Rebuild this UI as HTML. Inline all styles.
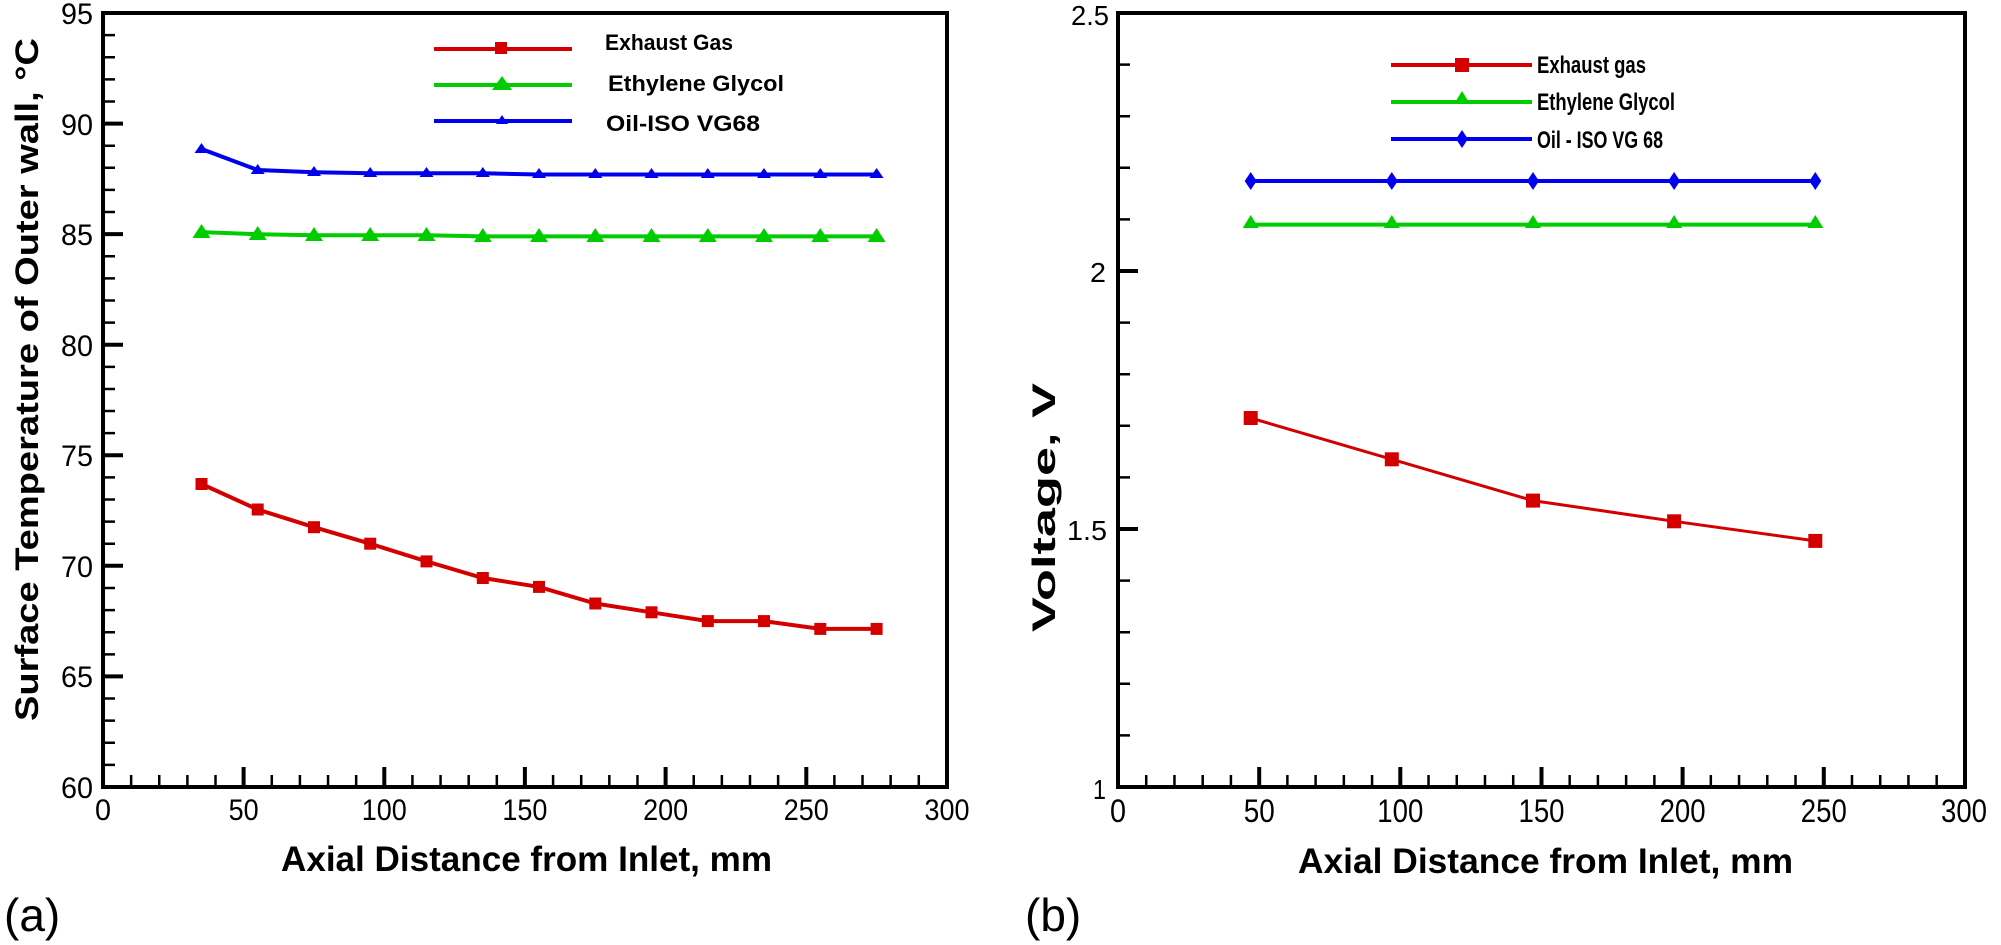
<!DOCTYPE html>
<html><head><meta charset="utf-8"><style>
html,body{margin:0;padding:0;background:#fff}
svg{display:block}
text{font-family:"Liberation Sans",sans-serif}
</style></head><body>
<svg width="2001" height="945" viewBox="0 0 2001 945" xmlns="http://www.w3.org/2000/svg">
<!-- LEFT PLOT -->
<g stroke="#000" fill="none">
<rect x="103" y="13" width="844" height="774" stroke-width="4"/>
<line x1="109" y1="788.25" x2="109" y2="15" stroke-width="12" stroke-dasharray="2.5 19.614"/>
<line x1="101.75" y1="781" x2="946" y2="781" stroke-width="12" stroke-dasharray="2.5 25.63"/>
<path stroke-width="4" d="M103 676.4h20M103 565.8h20M103 455.3h20M103 344.7h20M103 234.1h20M103 123.6h20
M243.6 787v-20M384.3 787v-20M524.9 787v-20M665.6 787v-20M806.3 787v-20"/>
</g>
<g font-size="30" text-anchor="end" fill="#000">
<text x="93" y="798" textLength="32" lengthAdjust="spacingAndGlyphs">60</text>
<text x="93" y="687" textLength="32" lengthAdjust="spacingAndGlyphs">65</text>
<text x="93" y="577" textLength="32" lengthAdjust="spacingAndGlyphs">70</text>
<text x="93" y="466" textLength="32" lengthAdjust="spacingAndGlyphs">75</text>
<text x="93" y="356" textLength="32" lengthAdjust="spacingAndGlyphs">80</text>
<text x="93" y="245" textLength="32" lengthAdjust="spacingAndGlyphs">85</text>
<text x="93" y="135" textLength="32" lengthAdjust="spacingAndGlyphs">90</text>
<text x="93" y="24" textLength="32" lengthAdjust="spacingAndGlyphs">95</text>
</g>
<g font-size="30" text-anchor="middle" fill="#000">
<text x="103" y="820" textLength="16" lengthAdjust="spacingAndGlyphs">0</text>
<text x="243.6" y="820" textLength="30" lengthAdjust="spacingAndGlyphs">50</text>
<text x="384.3" y="820" textLength="45" lengthAdjust="spacingAndGlyphs">100</text>
<text x="524.9" y="820" textLength="45" lengthAdjust="spacingAndGlyphs">150</text>
<text x="665.6" y="820" textLength="45" lengthAdjust="spacingAndGlyphs">200</text>
<text x="806.3" y="820" textLength="45" lengthAdjust="spacingAndGlyphs">250</text>
<text x="947" y="820" textLength="45" lengthAdjust="spacingAndGlyphs">300</text>
</g>
<text x="281" y="871" font-size="35" font-weight="bold" textLength="491" lengthAdjust="spacingAndGlyphs">Axial Distance from Inlet, mm</text>
<text transform="translate(38,721) rotate(-90)" font-size="32" font-weight="bold" textLength="683" lengthAdjust="spacingAndGlyphs">Surface Temperature of Outer wall, °C</text>
<text x="4" y="931" font-size="46" font-family="Liberation Serif,serif">(a)</text>

<!-- left series -->
<polyline fill="none" stroke="#d40000" stroke-width="4" points="201.5,484 257.7,509.5 314,527.2 370.2,543.7 426.5,561.4 482.8,578 539,586.9 595.3,603.5 651.5,612.3 707.8,621.1 764,621.1 820.3,628.9 876.6,628.9"/>
<g fill="#d40000">
<rect x="195.5" y="478" width="12" height="12"/><rect x="251.7" y="503.5" width="12" height="12"/><rect x="308" y="521.2" width="12" height="12"/>
<rect x="364.2" y="537.7" width="12" height="12"/><rect x="420.5" y="555.4" width="12" height="12"/><rect x="476.8" y="572" width="12" height="12"/>
<rect x="533" y="580.9" width="12" height="12"/><rect x="589.3" y="597.5" width="12" height="12"/><rect x="645.5" y="606.3" width="12" height="12"/>
<rect x="701.8" y="615.1" width="12" height="12"/><rect x="758" y="615.1" width="12" height="12"/><rect x="814.3" y="622.9" width="12" height="12"/>
<rect x="870.6" y="622.9" width="12" height="12"/>
<rect x="495" y="42" width="12" height="12"/>
</g>
<polyline fill="none" stroke="#00cc00" stroke-width="4" points="201.5,232.1 257.7,234.2 314,235.3 370.2,235.3 426.5,235.3 482.8,236.4 539,236.4 595.3,236.4 651.5,236.4 707.8,236.4 764,236.4 820.3,236.4 876.6,236.4"/>
<g fill="#00cc00">
<path d="M201.5 224l-9 14h18zM257.7 226l-9 14h18zM314 227l-9 14h18zM370.2 227l-9 14h18zM426.5 227l-9 14h18zM482.8 228l-9 14h18zM539 228l-9 14h18zM595.3 228l-9 14h18zM651.5 228l-9 14h18zM707.8 228l-9 14h18zM764 228l-9 14h18zM820.3 228l-9 14h18zM876.6 228l-9 14h18zM502 76l-10 14h20z"/>
</g>
<polyline fill="none" stroke="#0000ee" stroke-width="4" points="201.5,149 257.7,170 314,172.2 370.2,173.3 426.5,173.3 482.8,173.3 539,174.5 595.3,174.5 651.5,174.5 707.8,174.5 764,174.5 820.3,174.5 876.6,174.5"/>
<g fill="#0000ee">
<path d="M201.5 143l-7 10h14zM257.7 164l-7 10h14zM314 166l-7 10h14zM370.2 167l-7 10h14zM426.5 167l-7 10h14zM482.8 167l-7 10h14zM539 168l-7 10h14zM595.3 168l-7 10h14zM651.5 168l-7 10h14zM707.8 168l-7 10h14zM764 168l-7 10h14zM820.3 168l-7 10h14zM876.6 168l-7 10h14zM502 115l-6 9h12z"/>
</g>
<g stroke-width="4">
<line x1="434" y1="49" x2="572" y2="49" stroke="#d40000"/>
<line x1="434" y1="85" x2="572" y2="85" stroke="#00cc00"/>
<line x1="434" y1="121" x2="572" y2="121" stroke="#0000ee"/>
</g>
<g font-size="22" font-weight="bold" fill="#000">
<text x="605" y="50" textLength="128" lengthAdjust="spacingAndGlyphs">Exhaust Gas</text>
<text x="608" y="91" textLength="176" lengthAdjust="spacingAndGlyphs">Ethylene Glycol</text>
<text x="606" y="131" textLength="154" lengthAdjust="spacingAndGlyphs">Oil-ISO VG68</text>
</g>

<!-- RIGHT PLOT -->
<g stroke="#000" fill="none">
<rect x="1118" y="13" width="847" height="774" stroke-width="4"/>
<line x1="1124" y1="788.25" x2="1124" y2="15" stroke-width="12" stroke-dasharray="2.5 49.1"/>
<line x1="1116.75" y1="781" x2="1964" y2="781" stroke-width="12" stroke-dasharray="2.5 25.73"/>
<path stroke-width="4" d="M1118 529h20M1118 271h20M1259.2 787v-20M1400.3 787v-20M1541.5 787v-20M1682.6 787v-20M1823.8 787v-20"/>
</g>
<g font-size="28" text-anchor="end" fill="#000">
<text x="1106" y="799" textLength="13" lengthAdjust="spacingAndGlyphs">1</text>
<text x="1107" y="540" textLength="40" lengthAdjust="spacingAndGlyphs">1.5</text>
<text x="1106" y="282" textLength="16" lengthAdjust="spacingAndGlyphs">2</text>
<text x="1109" y="25" textLength="38" lengthAdjust="spacingAndGlyphs">2.5</text>
</g>
<g font-size="32" text-anchor="middle" fill="#000">
<text x="1118" y="822" textLength="16" lengthAdjust="spacingAndGlyphs">0</text>
<text x="1259.2" y="822" textLength="31" lengthAdjust="spacingAndGlyphs">50</text>
<text x="1400.3" y="822" textLength="46" lengthAdjust="spacingAndGlyphs">100</text>
<text x="1541.5" y="822" textLength="46" lengthAdjust="spacingAndGlyphs">150</text>
<text x="1682.6" y="822" textLength="46" lengthAdjust="spacingAndGlyphs">200</text>
<text x="1823.8" y="822" textLength="46" lengthAdjust="spacingAndGlyphs">250</text>
<text x="1964" y="822" textLength="46" lengthAdjust="spacingAndGlyphs">300</text>
</g>
<text x="1298" y="873" font-size="35" font-weight="bold" textLength="495" lengthAdjust="spacingAndGlyphs">Axial Distance from Inlet, mm</text>
<text transform="translate(1055,632) rotate(-90)" font-size="32" font-weight="bold" textLength="249" lengthAdjust="spacingAndGlyphs">Voltage, V</text>
<text x="1025" y="931" font-size="46" font-family="Liberation Serif,serif">(b)</text>

<polyline fill="none" stroke="#d40000" stroke-width="3" points="1250.7,418 1391.8,459.3 1533,500.6 1674.1,521.3 1815.3,540.9"/>
<g fill="#d40000">
<rect x="1243.7" y="411" width="14" height="14"/><rect x="1384.8" y="452.3" width="14" height="14"/><rect x="1526" y="493.6" width="14" height="14"/>
<rect x="1667.1" y="514.3" width="14" height="14"/><rect x="1808.3" y="533.9" width="14" height="14"/>
<rect x="1455" y="58" width="14" height="14"/>
</g>
<polyline fill="none" stroke="#00cc00" stroke-width="4" points="1250.7,224.6 1815.3,224.6"/>
<g fill="#00cc00">
<path d="M1250.7 215l-8 13h16zM1391.8 215l-8 13h16zM1533 215l-8 13h16zM1674.1 215l-8 13h16zM1815.3 215l-8 13h16zM1462 91l-8 13h16z"/>
</g>
<polyline fill="none" stroke="#0000ee" stroke-width="4" points="1250.7,181 1815.3,181"/>
<g fill="#0000ee">
<path d="M1250.7 172l6 9l-6 9l-6-9zM1391.8 172l6 9l-6 9l-6-9zM1533 172l6 9l-6 9l-6-9zM1674.1 172l6 9l-6 9l-6-9zM1815.3 172l6 9l-6 9l-6-9zM1462 130l6 9l-6 9l-6-9z"/>
</g>
<g stroke-width="4">
<line x1="1391" y1="65" x2="1532" y2="65" stroke="#d40000"/>
<line x1="1391" y1="102" x2="1532" y2="102" stroke="#00cc00"/>
<line x1="1391" y1="139" x2="1532" y2="139" stroke="#0000ee"/>
</g>
<g font-size="24" font-weight="bold" fill="#000">
<text x="1537" y="73" textLength="109" lengthAdjust="spacingAndGlyphs">Exhaust gas</text>
<text x="1537" y="110" textLength="138" lengthAdjust="spacingAndGlyphs">Ethylene Glycol</text>
<text x="1537" y="148" textLength="126" lengthAdjust="spacingAndGlyphs">Oil - ISO VG 68</text>
</g>
</svg>
</body></html>
